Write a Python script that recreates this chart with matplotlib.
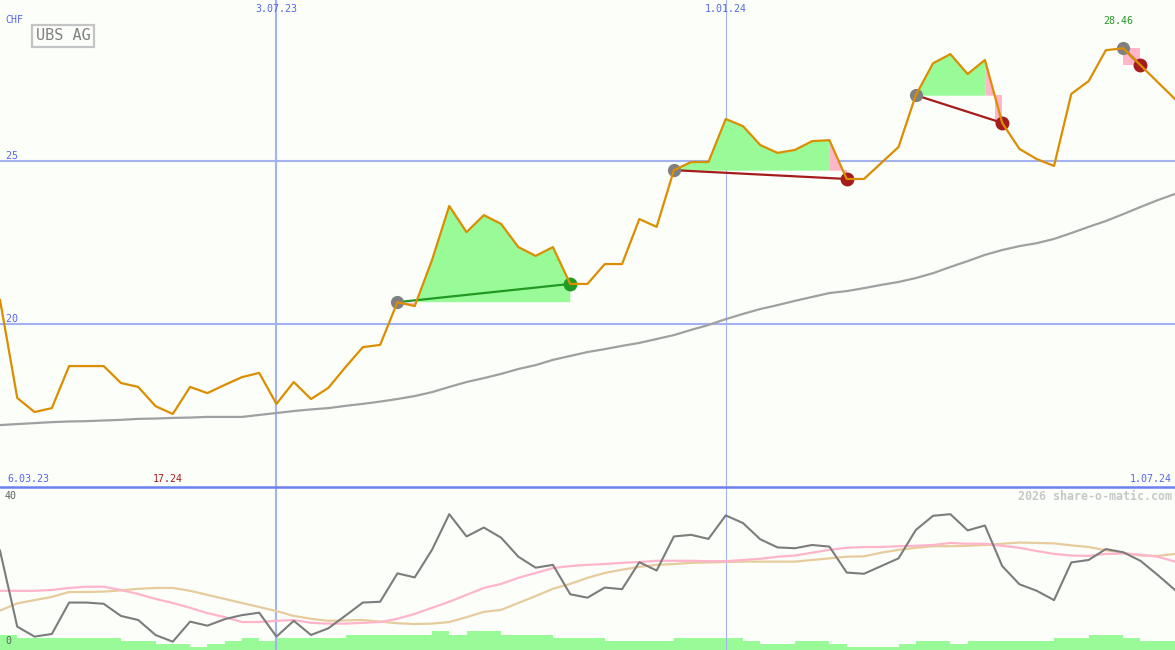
import matplotlib

matplotlib.use("Agg")
import matplotlib.pyplot as plt
import matplotlib.dates as mdates
import numpy as np
import pandas as pd

BG = "#fcfefa"
GRID = "#a3b3f2"
SEP = "#6c80f0"
BLUE_TXT = "#5566ee"
WIN = "#229922"
LOSS = "#a41c1c"
FILL_UP = "#98fb98"
FILL_DN = "#ffb6c8"
MONO = "DejaVu Sans Mono"

# weekly closes, UBS AG (CHF)
weeks = pd.date_range("2023-03-13", periods=69, freq="7D")
price = [20.74, 17.73, 17.30, 17.42, 18.71, 18.71, 18.71, 18.19, 18.07, 17.48,
         17.24, 18.07, 17.88, 18.13, 18.37, 18.50, 17.55, 18.22, 17.70, 18.04,
         18.68, 19.29, 19.36, 20.67, 20.55, 21.96, 23.62, 22.82, 23.34, 23.07,
         22.36, 22.09, 22.36, 21.23, 21.23, 21.84, 21.84, 23.22, 22.98, 24.72,
         24.97, 24.97, 26.29, 26.07, 25.49, 25.25, 25.34, 25.61, 25.64, 24.45,
         24.45, 24.94, 25.43, 27.02, 28.00, 28.28, 27.67, 28.10, 26.17, 25.37,
         25.06, 24.85, 27.06, 27.45, 28.40, 28.46, 27.94, 27.42, 26.90]
ma_long = [16.90, 16.93, 16.96, 16.99, 17.01, 17.02, 17.04, 17.06, 17.09, 17.10,
           17.12, 17.13, 17.15, 17.15, 17.15, 17.21, 17.27, 17.33, 17.38, 17.42,
           17.49, 17.55, 17.62, 17.70, 17.79, 17.91, 18.07, 18.22, 18.34, 18.47,
           18.62, 18.74, 18.90, 19.02, 19.14, 19.23, 19.33, 19.42, 19.54, 19.66,
           19.82, 19.97, 20.15, 20.31, 20.46, 20.58, 20.71, 20.83, 20.95, 21.01,
           21.10, 21.20, 21.29, 21.41, 21.56, 21.75, 21.93, 22.12, 22.27, 22.39,
           22.48, 22.61, 22.79, 22.98, 23.16, 23.37, 23.59, 23.80, 23.99]

# lower panel indicator (0..40) and its two averages
osc = [24.5, 5.75, 3.3, 3.95, 11.7, 11.7, 11.4, 8.4, 7.4, 3.7,
       2.05, 7.0, 6.0, 7.6, 8.6, 9.2, 3.3, 7.2, 3.7, 5.35,
       8.5, 11.7, 11.9, 18.9, 17.9, 24.7, 33.5, 28.0, 30.2, 27.7,
       23.0, 20.3, 21.0, 13.75, 12.9, 15.4, 15.0, 21.65, 19.6, 28.0,
       28.4, 27.4, 33.2, 31.3, 27.3, 25.3, 25.1, 25.9, 25.5, 19.1,
       18.8, 20.7, 22.6, 29.6, 33.1, 33.5, 29.5, 30.7, 20.7, 16.2,
       14.6, 12.3, 21.6, 22.2, 24.9, 24.1, 22.0, 18.5, 14.8]
osc_pink = [14.6, 14.6, 14.6, 14.8, 15.3, 15.6, 15.6, 14.8, 13.8, 12.6,
            11.6, 10.4, 9.1, 8.1, 6.9, 6.9, 7.2, 7.4, 6.7, 6.5,
            6.5, 6.7, 6.9, 7.7, 8.9, 10.4, 11.9, 13.6, 15.3, 16.3,
            17.8, 19.0, 20.2, 20.7, 21.0, 21.2, 21.5, 21.7, 22.0, 22.0,
            22.0, 21.9, 21.9, 22.2, 22.5, 23.0, 23.3, 24.0, 24.7, 25.2,
            25.4, 25.4, 25.6, 25.7, 25.9, 26.4, 26.2, 26.2, 25.7, 25.2,
            24.4, 23.7, 23.3, 23.2, 23.7, 23.8, 23.5, 23.0, 21.8]
osc_tan = [9.7, 11.5, 12.3, 13.1, 14.3, 14.3, 14.4, 14.7, 15.1, 15.3,
           15.3, 14.6, 13.6, 12.6, 11.6, 10.6, 9.6, 8.4, 7.7, 7.2,
           7.3, 7.4, 7.0, 6.6, 6.4, 6.5, 6.9, 8.1, 9.4, 9.9,
           11.6, 13.3, 15.1, 16.3, 17.8, 19.0, 19.8, 20.5, 21.0, 21.2,
           21.5, 21.6, 21.7, 21.8, 21.8, 21.8, 21.8, 22.2, 22.6, 23.0,
           23.1, 24.0, 24.7, 25.2, 25.6, 25.6, 25.7, 25.9, 26.2, 26.5,
           26.4, 26.3, 25.8, 25.4, 24.6, 24.0, 23.3, 23.2, 23.7]
# weekly volume (Mio.), one bar per week interval
volume = [60, 47, 47, 47, 47, 47, 47, 36, 36, 24,
          24, 13, 24, 36, 47, 36, 47, 47, 47, 47,
          60, 60, 60, 60, 60, 76, 60, 76, 76, 60,
          60, 60, 47, 47, 47, 36, 36, 36, 36, 47,
          47, 47, 47, 36, 24, 24, 36, 36, 24, 13,
          13, 13, 24, 36, 36, 24, 36, 36, 36, 36,
          36, 47, 47, 60, 60, 47, 36, 36]

# signal trades (week index of entry / exit)
trade_entries = [23, 39, 53, 65]
trade_exits = [33, 49, 58, 66]

price_levels = [20, 25]
grid_dates = ["2023-07-03", "2024-01-01"]
grid_widths = [1.5, 0.8]
label_start = "6.03.23"
label_end = "1.07.24"

x = mdates.date2num(weeks)
p = np.array(price)

fig = plt.figure(figsize=(11.75, 6.5), dpi=100, facecolor=BG)
sep = 163 / 650
ax = fig.add_axes([0, sep, 1, 1 - sep], facecolor=BG)
lo = fig.add_axes([0, 0, 1, sep], facecolor=BG)
vol = lo.twinx()

for a in (ax, lo, vol):
    a.set_xlim(x[0], x[-1])
    a.set_xticks([])
    a.set_yticks([])
    for s in a.spines.values():
        s.set_visible(False)
ax.set_ylim(15.0, 29.94)
lo.set_ylim(0, 40.2)
vol.set_ylim(0, 652)
lo.spines["top"].set_visible(True)
lo.spines["top"].set_color(SEP)
lo.spines["top"].set_linewidth(1.8)

# grid
for lvl in price_levels:
    ax.axhline(lvl, color=GRID, lw=1.5, zorder=1)
    ax.text(x[0], lvl, f" {lvl}", color=BLUE_TXT, fontsize=7.2, family=MONO,
            ha="left", va="bottom")
for d, w in zip(grid_dates, grid_widths):
    gx = mdates.date2num(pd.Timestamp(d))
    for a in (ax, lo):
        a.axvline(gx, color=GRID, lw=w, zorder=1)
    ts = pd.Timestamp(d)
    ax.text(gx, 1 - 9 / 487, f"{ts.day}.{ts:%m.%y}", transform=ax.get_xaxis_transform(),
            color=BLUE_TXT, fontsize=7.2, family=MONO, ha="center", va="center")

# trades: filled area vs. entry level
for e, q in zip(trade_entries, trade_exits):
    lvl = p[e]
    win = p[q] > lvl
    last = q if win else q - 1
    seg = slice(e, last + 1)
    ax.fill_between(x[seg], p[seg], lvl, where=p[seg] >= lvl, interpolate=True,
                    color=FILL_UP, lw=0, zorder=2)
    ax.fill_between(x[seg], p[seg], lvl, where=p[seg] <= lvl, interpolate=True,
                    color=FILL_DN, lw=0, zorder=2)
    if not win:
        s2 = slice(q - 1, q + 1)
        ax.fill_between(x[s2], p[s2], lvl, where=p[s2] >= lvl, interpolate=True,
                        color=FILL_DN, lw=0, zorder=2)
        if p[q - 1] > lvl:
            xc = x[q - 1] + (x[q] - x[q - 1]) * (p[q - 1] - lvl) / (p[q - 1] - p[q])
        else:
            xc = x[q - 1]
        ax.fill_between([xc, x[q]], lvl, p[q], color=FILL_DN, lw=0, zorder=2)
    col = WIN if win else LOSS
    ax.plot([x[e], x[q]], [p[e], p[q]], color=col, lw=1.6, zorder=3,
            solid_capstyle="butt")
    ax.plot(x[e], p[e], "o", ms=9.5, color="#808080", mec="none", zorder=4)
    ax.plot(x[q], p[q], "o", ms=10, color=col, mec="none", zorder=4)

ax.plot(x, ma_long, color="#a0a0a0", lw=1.6, zorder=2.5)
ax.plot(x, p, color="#da8e00", lw=1.6, zorder=5)

# lower panel
vol.bar(x[:-1], volume, width=np.diff(x), align="edge", color=FILL_UP, lw=0, zorder=1)
lo.set_zorder(vol.get_zorder() + 1)
lo.patch.set_visible(False)
lo.plot(x, osc_tan, color="#e6cc9c", lw=1.6, zorder=3)
lo.plot(x, osc_pink, color="#ffb4cc", lw=1.6, zorder=3)
lo.plot(x, osc, color="#7c7c7c", lw=1.5, zorder=4)

# labels
ax.text(5 / 1175, 1 - 20 / 487, "CHF", transform=ax.transAxes, color=BLUE_TXT,
        fontsize=7.2, family=MONO, ha="left", va="center")
ax.text(63 / 1175, 1 - 36 / 487, "UBS AG", transform=ax.transAxes, color="#808080",
        fontsize=11, family=MONO, ha="center", va="center",
        bbox=dict(boxstyle="square,pad=0.25", fc=BG, ec="#c4c4c4", lw=1.6))
imax, imin = int(np.argmax(p)), int(np.argmin(p))
ax.text(x[imax] - 2, 1 - 21 / 487, f"{p[imax]:.2f}", transform=ax.get_xaxis_transform(),
        color=WIN, fontsize=7.2, family=MONO, ha="center", va="center")
ax.text(x[imin] - 2, 8 / 487, f"{p[imin]:.2f}", transform=ax.get_xaxis_transform(),
        color=LOSS, fontsize=7.2, family=MONO, ha="center", va="center")
ax.text(7 / 1175, 8 / 487, label_start, transform=ax.transAxes, color=BLUE_TXT,
        fontsize=7.2, family=MONO, ha="left", va="center")
ax.text(1 - 3 / 1175, 8 / 487, label_end, transform=ax.transAxes, color=BLUE_TXT,
        fontsize=7.2, family=MONO, ha="right", va="center")
lo.text(1 - 3 / 1175, 1 - 9 / 163, "2026 share-o-matic.com", transform=lo.transAxes,
        color="#c8c8c8", fontsize=8.4, family=MONO, weight="bold", ha="right", va="center")
lo.text(5 / 1175, 1 - 9 / 163, "40", transform=lo.transAxes, color="#606060",
        fontsize=7.2, family=MONO, ha="left", va="center")
lo.text(5 / 1175, 9 / 163, "0", transform=lo.transAxes, color="#606060",
        fontsize=7.2, family=MONO, ha="left", va="center")

fig.savefig("out.png", dpi=100, facecolor=BG)
